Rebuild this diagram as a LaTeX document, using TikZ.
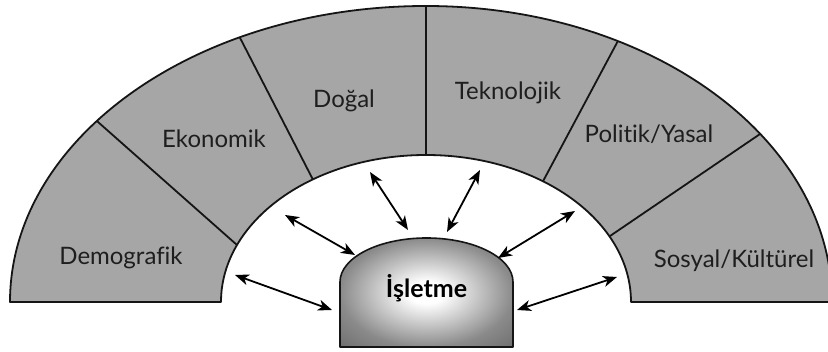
\documentclass[tikz,border=0pt]{standalone}
\usepackage{fontspec}
\setmainfont{Lato}[Ligatures={NoCommon,NoRequired,NoContextual}]
\usetikzlibrary{arrows.meta}

\definecolor{segfill}{HTML}{A6A6A6}
\definecolor{inkline}{HTML}{151515}
\definecolor{labelink}{HTML}{1E1E1E}
\definecolor{boxedge}{HTML}{8A8A8A}
\definecolor{boxcorner}{HTML}{6E6E6E}

% soft white glow in the middle of the firm box
\pgfdeclareradialshading{boxglow}{\pgfpoint{0bp}{0bp}}{%
  color(0bp)=(white); color(5bp)=(white); color(25bp)=(boxedge);
  color(36bp)=(boxcorner); color(50bp)=(boxcorner)}

\tikzset{
  archline/.style={draw=inkline, line width=1.8pt, line join=round},
  divider/.style={draw=inkline, line width=1.8pt},
  seglabel/.style={font=\fontsize{24}{28}\selectfont, text=labelink, anchor=base, inner sep=0pt},
  boxlabel/.style={font=\fontsize{25}{29}\selectfont\bfseries, text=black, anchor=base, inner sep=0pt},
  link/.style={draw=black, line width=1.8pt,
    {Stealth[length=14pt,width=11pt,inset=4pt]}-{Stealth[length=14pt,width=11pt,inset=4pt]}}
}

\begin{document}
\begin{tikzpicture}[x=1pt,y=1pt]
\useasboundingbox (0,0) rectangle (828,352);
\fill[white] (0,0) rectangle (828,352);

% the arch of environmental factors
\path[archline, fill=segfill]
  (10,50) arc[start angle=180, end angle=90, x radius=416, y radius=296]
          arc[start angle=90, end angle=0, x radius=406, y radius=296]
  -- (631,50) arc[start angle=0, end angle=180, x radius=205, y radius=147]
  -- cycle;

% end points of the dividers on the outer and inner rims
\path (426,50) ++(142.3:416 and 296) coordinate (o1);
\path (426,50) ++(116.6:416 and 296) coordinate (o2);
\path (426,50) ++(90:416 and 296)    coordinate (o3);
\path (426,50) ++(61.8:406 and 296)  coordinate (o4);
\path (426,50) ++(34.6:406 and 296)  coordinate (o5);
\path (426,50) ++(157.2:205 and 147) coordinate (i1);
\path (426,50) ++(123.5:205 and 147) coordinate (i2);
\path (426,50) ++(90:205 and 147)    coordinate (i3);
\path (426,50) ++(55.2:205 and 147)  coordinate (i4);
\path (426,50) ++(26.5:205 and 147)  coordinate (i5);

\foreach \k in {1,...,5} { \draw[divider] (o\k) -- (i\k); }

% segment labels
\node[seglabel] (dem) at (121,87)  {Demografik};
\node[seglabel] (eko) at (214,204) {Ekonomik};
\node[seglabel] (dog) at (344,244) {Doğal};
\node[seglabel] (tek) at (508,252) {Teknolojik};
\node[seglabel] (pol) at (649,209) {Politik/Yasal};
\node[seglabel] (sos) at (734,84)  {Sosyal/Kültürel};

% the firm in the middle
\shadedraw[shading=boxglow, draw=inkline, line width=1.6pt, line join=round]
  (340,5) -- (340,70) arc[start angle=180, end angle=0, x radius=86.5, y radius=44]
  -- (513,5) -- cycle;
\node[boxlabel] (isl) at (426.5,54) {İşletme};

% arrow ends: on the inner rim and on the box
\coordinate (a1) at (235,77);  \coordinate (b1) at (332,42);
\coordinate (a2) at (285,137); \coordinate (b2) at (355,97);
\coordinate (a3) at (370,180); \coordinate (b3) at (408,122);
\coordinate (a4) at (480,182); \coordinate (b4) at (447,120);
\coordinate (a5) at (575,141); \coordinate (b5) at (498,94);
\coordinate (a6) at (617,75);  \coordinate (b6) at (517,42);

\foreach \k in {1,...,6} { \draw[link] (a\k) -- (b\k); }
\end{tikzpicture}
\end{document}
